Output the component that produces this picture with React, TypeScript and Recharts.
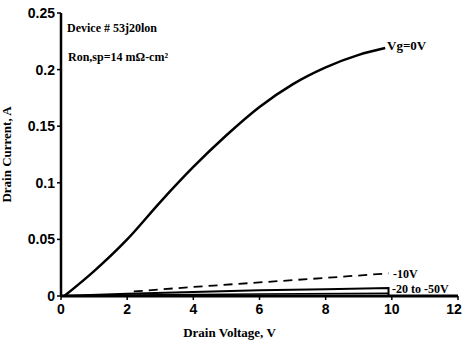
import React from "react";
import { LineChart, Line, XAxis, YAxis, Customized } from "recharts";

const vg0X = [0.1, 1, 2, 3, 4, 5, 6, 7, 8, 9, 9.8];
const vg0Y = [0.0, 0.022, 0.05, 0.083, 0.114, 0.142, 0.167, 0.187, 0.202, 0.213, 0.219];
const vg10X = [2.2, 4, 6, 8, 9.9];
const vg10Y = [0.004, 0.008, 0.012, 0.016, 0.02];
const vg20X = [0, 2, 4, 6, 8, 9.9, 9.9];
const vg20Y = [0.0, 0.002, 0.0035, 0.005, 0.006, 0.007, 0.0];
const vg50X = [0, 3, 6, 9.9];
const vg50Y = [0.0, 0.001, 0.0018, 0.0025];
const xTicks = [0, 2, 4, 6, 8, 10, 12];
const yTicks = [0, 0.05, 0.1, 0.15, 0.2, 0.25];
const yTickLabels = ["0", "0.05", "0.1", "0.15", "0.2", "0.25"];

const toPts = (xs: number[], ys: number[]) => xs.map((x, i) => ({ x, y: ys[i] }));
const vg0 = toPts(vg0X, vg0Y);
const vg10 = toPts(vg10X, vg10Y);
const vg20 = toPts(vg20X, vg20Y);
const vg50 = toPts(vg50X, vg50Y);

const serif = "'Liberation Serif', 'DejaVu Serif', serif";
const sans = "'Liberation Sans', Arial, sans-serif";

const Annotations = () => (
  <g fontFamily={serif} fill="#000" fontWeight={600}>
    <text x={67} y={32} fontSize={12}>Device # 53j20lon</text>
    <text x={68} y={61} fontSize={12}>Ron,sp=14 mΩ-cm²</text>
    <text x={387} y={50} fontSize={13}>Vg=0V</text>
    <text x={393} y={278} fontSize={12}>-10V</text>
    <text x={392} y={293} fontSize={12}>-20 to -50V</text>
  </g>
);

const XTick = (props: any) => {
  const { x, y, payload } = props;
  const last = payload.value === xTicks[xTicks.length - 1];
  return (
    <text x={last ? x - 4 : x} y={y + 12} textAnchor="middle" fill="#000" fontFamily={sans} fontWeight={700} fontSize={14}>
      {payload.value}
    </text>
  );
};

export default function App() {
  return (
    <div style={{ position: "absolute", left: 0, top: 0, background: "#fff" }}>
      <LineChart width={463} height={341} margin={{ top: 13, right: 5, bottom: 0, left: 0 }}>
        <XAxis
          xAxisId="b"
          dataKey="x"
          type="number"
          domain={[0, 12]}
          ticks={xTicks}
          interval={0}
          allowDataOverflow
          height={45}
          stroke="#000"
          axisLine={{ stroke: "#000", strokeWidth: 3 }}
          tickLine={{ stroke: "#000", strokeWidth: 1.5 }}
          tickSize={4}
          tick={<XTick />}
          label={{ value: "Drain Voltage, V", position: "insideBottom", offset: 4, dx: -30, style: { fontFamily: serif, fontWeight: 600, fontSize: 13, fill: "#000" } }}
        />
        <XAxis xAxisId="t" orientation="top" type="number" domain={[0, 12]} height={0} tick={false} tickLine={false} axisLine={{ stroke: "#000", strokeWidth: 1.5 }} />
        <YAxis
          yAxisId="l"
          type="number"
          domain={[0, 0.25]}
          ticks={yTicks}
          interval={0}
          width={61}
          axisLine={{ stroke: "#000", strokeWidth: 2.5 }}
          tickLine={{ stroke: "#000", strokeWidth: 1.5 }}
          tickSize={4}
          tickFormatter={(v: number) => yTickLabels[yTicks.indexOf(v)] ?? String(v)}
          tick={{ fill: "#000", fontFamily: sans, fontWeight: 700, fontSize: 14 }}
          label={{ value: "Drain Current, A", angle: -90, position: "insideLeft", offset: 6, style: { textAnchor: "middle", fontFamily: serif, fontWeight: 600, fontSize: 13, fill: "#000" } }}
        />
        <YAxis yAxisId="r" orientation="right" type="number" domain={[0, 0.25]} width={0} tick={false} tickLine={false} axisLine={{ stroke: "#000", strokeWidth: 2 }} />
        <Line xAxisId="b" yAxisId="l" data={vg0} dataKey="y" type="monotone" stroke="#000" strokeWidth={2.5} dot={false} isAnimationActive={false} />
        <Line xAxisId="b" yAxisId="l" data={vg10} dataKey="y" type="linear" stroke="#000" strokeWidth={1.8} strokeDasharray="9 6" dot={false} isAnimationActive={false} />
        <Line xAxisId="b" yAxisId="l" data={vg20} dataKey="y" type="linear" stroke="#000" strokeWidth={2} dot={false} isAnimationActive={false} />
        <Line xAxisId="b" yAxisId="l" data={vg50} dataKey="y" type="linear" stroke="#000" strokeWidth={1.5} dot={false} isAnimationActive={false} />
        <Customized component={Annotations} />
      </LineChart>
    </div>
  );
}
